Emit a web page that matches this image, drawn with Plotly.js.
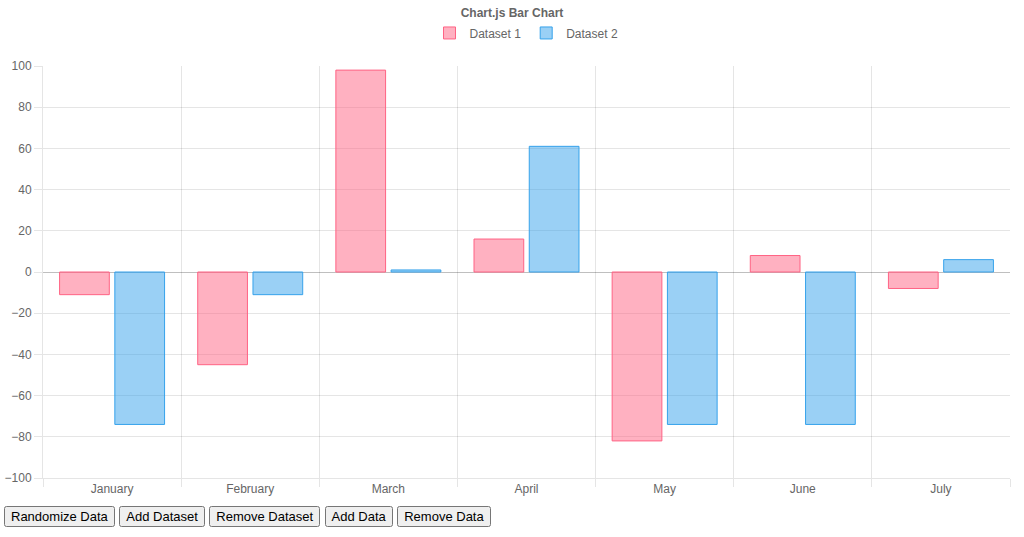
<!DOCTYPE html>
<html>
<head>
<meta charset="utf-8">
<script src="https://cdn.plot.ly/plotly-3.0.1.min.js"></script>
<style>
  body { margin: 0; font-family: "Liberation Sans", Arial, sans-serif; }
  #chart { width: 1024px; height: 503px; }
  #buttons { padding-left: 4px; margin-top: 3px; }
  button { font-size: 13px; font-family: "Liberation Sans", Arial, sans-serif; padding: 1px 5px; }
</style>
</head>
<body>
<div id="chart"></div>
<div id="buttons">
  <button>Randomize Data</button>
  <button>Add Dataset</button>
  <button>Remove Dataset</button>
  <button>Add Data</button>
  <button>Remove Data</button>
</div>
<script>
const months = ['January', 'February', 'March', 'April', 'May', 'June', 'July'];
const dataset1 = [-11, -45, 98, 16, -82, 8, -8];
const dataset2 = [-74, -11, 1, 61, -74, -74, 6];
const yTicks = [-100, -80, -60, -40, -20, 0, 20, 40, 60, 80, 100];

const grid = 'rgba(0,0,0,0.1)';

const traces = [
  {
    type: 'bar', name: 'Dataset 1', x: months, y: dataset1,
    marker: { color: 'rgba(255,99,132,0.5)', line: { color: 'rgb(255,99,132)', width: 1 } }
  },
  {
    type: 'bar', name: 'Dataset 2', x: months, y: dataset2,
    marker: { color: 'rgba(54,162,235,0.5)', line: { color: 'rgb(54,162,235)', width: 1 } }
  }
];

const layout = {
  margin: { l: 43, r: 14, t: 66, b: 25 },
  paper_bgcolor: 'white',
  plot_bgcolor: 'white',
  font: { family: 'Liberation Sans, Arial, sans-serif', size: 12, color: '#666' },
  title: { text: '<b>Chart.js Bar Chart</b>', x: 0.5, xanchor: 'center', y: 0.975, yanchor: 'middle', font: { size: 12, color: '#666' } },
  showlegend: true,
  legend: { orientation: 'h', x: 0.5, xanchor: 'center', y: 1.045, yanchor: 'bottom', font: { size: 12, color: '#666' } },
  bargap: 0.2,
  bargroupgap: 0.1,
  xaxis: {
    tickson: 'boundaries', showgrid: true, gridcolor: grid, ticks: 'outside', tickcolor: grid, ticklen: 8,
    showline: true, linecolor: grid, mirror: false, fixedrange: true
  },
  yaxis: {
    range: [-100, 100], tickvals: yTicks, showgrid: true, gridcolor: grid,
    zeroline: true, zerolinecolor: 'rgba(0,0,0,0.25)', zerolinewidth: 1,
    ticks: 'outside', tickcolor: grid, ticklen: 8, showline: true, linecolor: grid, fixedrange: true
  }
};

Plotly.newPlot('chart', traces, layout, { displayModeBar: false });
</script>
</body>
</html>
